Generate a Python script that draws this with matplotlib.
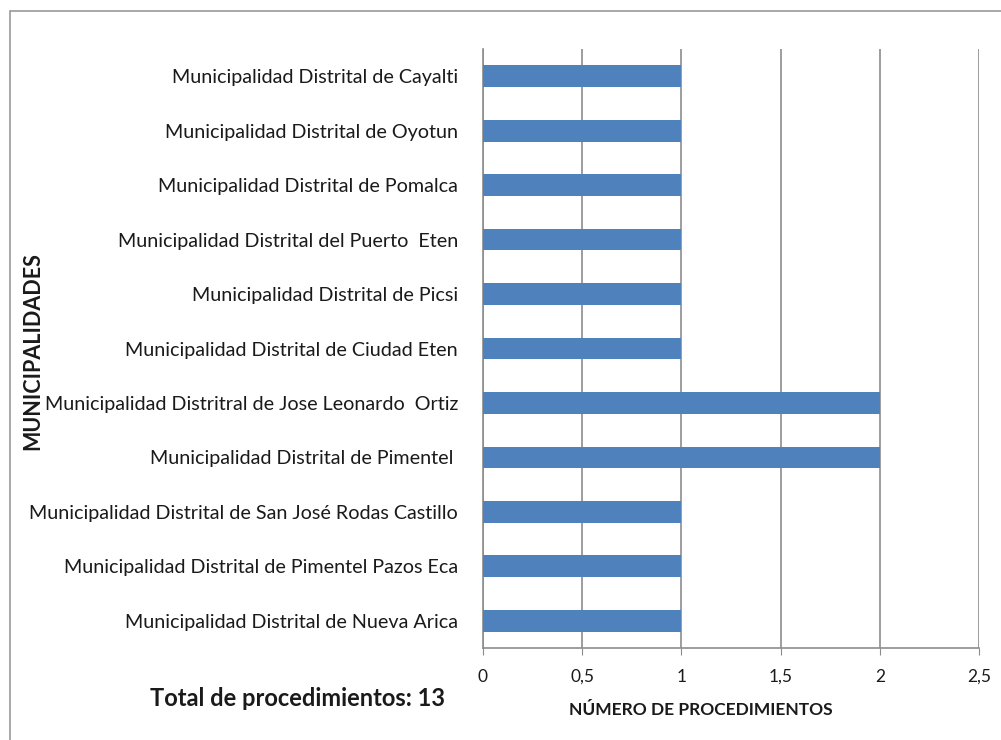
import matplotlib.pyplot as plt
from matplotlib.patches import Rectangle
from matplotlib.ticker import FuncFormatter

plt.rcParams['font.family'] = ['Lato', 'DejaVu Sans']

# Data (top to bottom as in the chart)
municipalidades = [
    "Municipalidad Distrital de Cayalti",
    "Municipalidad Distrital de Oyotun",
    "Municipalidad Distrital de Pomalca",
    "Municipalidad Distrital del Puerto  Eten",
    "Municipalidad Distrital de Picsi",
    "Municipalidad Distrital de Ciudad Eten",
    "Municipalidad Distritral de Jose Leonardo  Ortiz",
    "Municipalidad Distrital de Pimentel ",
    "Municipalidad Distrital de San José Rodas Castillo",
    "Municipalidad Distrital de Pimentel Pazos Eca",
    "Municipalidad Distrital de Nueva Arica",
]
procedimientos = [1, 1, 1, 1, 1, 1, 2, 2, 1, 1, 1]
x_ticks = [0, 0.5, 1, 1.5, 2, 2.5]

W, H = 1001, 740
fig = plt.figure(figsize=(W / 100, H / 100), dpi=100)

# outer chart frame
fig.patches.append(Rectangle((10 / W, -0.1), 1.2, 1 - 11 / H + 0.1,
                             transform=fig.transFigure, fill=False,
                             edgecolor='#9a9a9a', lw=1.2))

ax = fig.add_axes([483 / W, 1 - 648 / H, (979 - 483) / W, (648 - 49) / H])

pos = list(range(len(municipalidades)))[::-1]
ax.barh(pos, procedimientos, height=0.4, color='#4F81BD', zorder=3)

ax.set_xlim(0, 2.5)
ax.set_ylim(-0.5, len(municipalidades) - 0.5)
ax.set_xticks(x_ticks)
ax.xaxis.set_major_formatter(FuncFormatter(lambda v, p: f"{v:g}".replace('.', ',')))
ax.set_yticks(pos)
ax.set_yticklabels(municipalidades, fontsize=14.2, color='#1a1a1a')
ax.tick_params(axis='y', length=0, pad=18)
ax.tick_params(axis='x', length=5, color='#8c8c8c', labelsize=12.5, pad=10,
               labelcolor='#1a1a1a')
ax.grid(axis='x', color='#8c8c8c', lw=1.2, zorder=0)

for s in ['top', 'right']:
    ax.spines[s].set_visible(False)
for s in ['left', 'bottom']:
    ax.spines[s].set_color('#8c8c8c')
    ax.spines[s].set_linewidth(1.2)

fig.text(701 / W, 1 - 710 / H, "NÚMERO DE PROCEDIMIENTOS", ha='center', va='center',
         fontsize=12.5, fontweight='bold', color='#1a1a1a')
fig.text(33 / W, 1 - 351 / H, "MUNICIPALIDADES", rotation=90, ha='center', va='center',
         fontsize=15.5, fontweight='bold', color='#1a1a1a')
fig.text(297 / W, 1 - 698 / H, "Total de procedimientos: 13", ha='center', va='center',
         fontsize=17, fontweight='bold', color='#1a1a1a')

fig.savefig('out.png', dpi=100)
